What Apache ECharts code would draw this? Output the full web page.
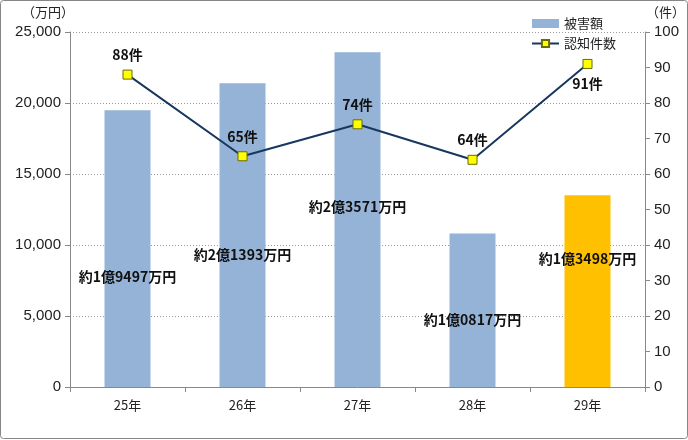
<!DOCTYPE html>
<html><head><meta charset="utf-8">
<script src="https://cdn.jsdelivr.net/npm/echarts@6/dist/echarts.min.js"></script>
<style>html,body{margin:0;padding:0;background:#fff}#c{width:688px;height:440px}</style>
</head><body><div id="c"></div>
<script>
const categories = ['25年','26年','27年','28年','29年'];
const damageValues = [19497, 21393, 23571, 10817, 13498];
const damageLabels = ['約1億9497万円','約2億1393万円','約2億3571万円','約1億0817万円','約1億3498万円'];
const caseCounts = [88, 65, 74, 64, 91];
const leftTicks = ['0','5,000','10,000','15,000','20,000','25,000'];

const FONT = '"Noto Sans CJK JP", "Noto Sans", sans-serif';
const barLabelDy = [167, 171, 154, 86, 63];
const barColors = ['#95B3D7','#95B3D7','#95B3D7','#95B3D7','#FFC000'];

const chart = echarts.init(document.getElementById('c'));
chart.setOption({
  animation: false,
  textStyle: {fontFamily: FONT},
  graphic: [{
    type: 'rect', shape: {x: 0.5, y: 0.5, width: 687, height: 438, r: 3},
    style: {fill: 'none', stroke: '#868686', lineWidth: 1}, z: -1
  }, {
    type: 'text', left: 22, top: 6,
    style: {text: '（万円）', font: '13px ' + FONT, fill: '#222'}
  }, {
    type: 'text', left: 646, top: 6,
    style: {text: '（件）', font: '13px ' + FONT, fill: '#222'}
  }],
  legend: {
    orient: 'vertical', left: 526, top: 12, itemGap: 7,
    itemWidth: 27, itemHeight: 9,
    textStyle: {fontSize: 13, color: '#222', fontFamily: FONT},
    data: [
      {name: '被害額', icon: 'rect'},
      {name: '認知件数'}
    ]
  },
  grid: {left: 70, right: 43, top: 32, bottom: 53},
  xAxis: {
    type: 'category', data: categories,
    axisLine: {lineStyle: {color: '#888'}},
    axisTick: {show: true, length: 5, lineStyle: {color: '#888'}},
    axisLabel: {color: '#222', fontSize: 13, margin: 12, fontFamily: FONT}
  },
  yAxis: [{
    type: 'value', min: 0, max: 25000, interval: 5000,
    axisLine: {show: true, lineStyle: {color: '#888'}},
    axisTick: {show: true, length: 5, lineStyle: {color: '#888'}},
    axisLabel: {color: '#222', fontSize: 15, margin: 9, fontFamily: 'Liberation Sans, sans-serif',
      formatter: (v) => leftTicks[Math.round(v / 5000)]},
    splitLine: {show: true, lineStyle: {color: '#999', type: [1, 2]}}
  }, {
    type: 'value', min: 0, max: 100, interval: 10,
    axisLine: {show: true, lineStyle: {color: '#888'}},
    axisTick: {show: true, length: 5, lineStyle: {color: '#888'}},
    axisLabel: {color: '#222', fontSize: 15, margin: 9, fontFamily: 'Liberation Sans, sans-serif'},
    splitLine: {show: false}
  }],
  series: [{
    name: '被害額', type: 'bar', barWidth: '40%',
    itemStyle: {color: '#95B3D7'},
    data: damageValues.map((v, i) => ({
      value: v,
      itemStyle: {color: barColors[i]},
      label: {
        show: true, position: ['50%', barLabelDy[i]], align: 'center', verticalAlign: 'middle',
        formatter: () => damageLabels[i], color: '#111', fontSize: 14, fontWeight: 'bold', fontFamily: FONT
      }
    }))
  }, {
    name: '認知件数', type: 'line', yAxisIndex: 1,
    symbol: 'rect', symbolSize: 9,
    lineStyle: {color: '#17375E', width: 2},
    itemStyle: {color: '#FFFF00', borderColor: '#6B6B00', borderWidth: 1},
    data: caseCounts.map((v, i) => ({
      value: v,
      label: {
        show: true, position: i === 4 ? 'bottom' : 'top', distance: 8,
        formatter: '{c}件', color: '#111', fontSize: 14, fontWeight: 'bold', fontFamily: FONT
      }
    })),
    z: 5
  }]
});
</script></body></html>
